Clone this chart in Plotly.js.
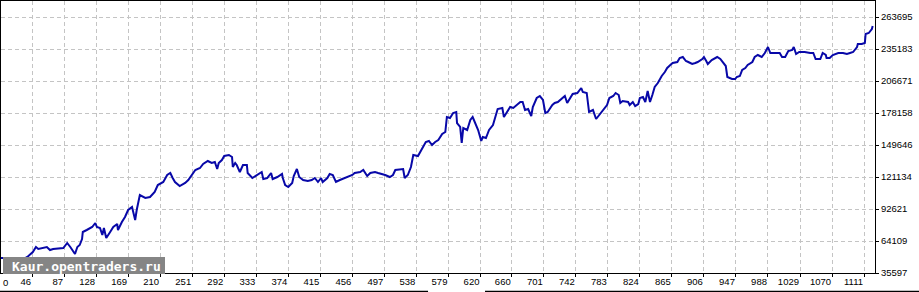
<!DOCTYPE html>
<html>
<head>
<meta charset="utf-8">
<script src="https://cdn.plot.ly/plotly-3.0.1.min.js"></script>
<style>html,body{margin:0;padding:0;background:#fff;}#chart{width:919px;height:292px;}</style>
</head>
<body>
<div id="chart"></div>
<script>
// Bar index of each sampled point of the equity curve
const barIndex = [5,15,23,28,33,40,47,51,54,59,65,69,73,86,91,95,98,101,104,107,110,111,116,123,127,129,133,136,138,141,146,150,155,156,161,165,169,174,178,180,184,191,197,201,203,207,214,219,223,226,229,235,242,246,252,255,261,265,271,276,280,283,285,289,292,298,302,303,306,308,312,316,321,322,328,334,340,342,347,352,354,360,366,367,370,374,379,381,385,388,393,399,404,408,412,416,418,424,427,431,435,440,449,456,459,466,470,475,479,485,489,494,498,504,508,511,517,521,523,527,531,534,540,543,546,550,554,558,562,566,571,575,577,581,585,589,590,594,596,598,603,607,610,613,617,621,623,627,631,636,639,642,648,650,654,658,662,667,671,674,677,681,685,687,692,696,700,703,706,712,715,719,724,728,731,735,738,744,749,751,756,759,764,768,773,777,782,785,790,793,797,799,802,809,811,815,818,822,824,828,831,834,837,840,843,847,852,856,859,863,866,872,875,879,883,886,891,895,898,904,906,909,911,916,920,923,927,930,934,936,942,946,948,952,955,959,962,968,971,975,980,984,988,991,994,1000,1003,1006,1010,1014,1019,1021,1024,1028,1035,1042,1046,1049,1055,1058,1062,1063,1067,1071,1078,1084,1089,1093,1097,1102,1103,1108,1112,1113,1117,1121,1122];
// Equity (balance) value at each sampled point
const equity = [48960,48960,48070,46290,47180,49850,54310,58760,56980,57870,58760,56090,56980,57870,62330,58760,56090,52530,58760,60550,65890,72130,73910,76580,80150,76580,75690,69460,75690,66780,72130,76580,79260,73910,81040,85490,91730,94400,82820,91730,105100,102420,103310,105990,107770,114000,116680,122920,124700,120240,116680,113110,115790,118460,124700,127370,129150,132720,135390,133610,134500,128260,133610,136280,139840,140740,138950,130040,133610,131830,125590,131830,131830,124700,120240,122920,125590,119350,120240,124700,119350,121130,123810,120240,114000,112220,115790,122020,128260,121130,118460,117570,118460,120240,116680,120240,116680,120240,123810,122920,116680,118460,121130,122920,124700,125590,127370,122020,124700,125590,124700,123810,122920,121130,122920,127370,128260,128260,120240,122920,130040,140740,139840,143410,147860,152320,153210,149650,152320,154100,159450,161230,174590,173700,178160,179050,169250,165680,151430,164790,163010,171920,174590,169250,163010,153210,156770,155880,163010,167470,173700,181720,182610,174590,179050,183500,182610,185290,187960,187960,180830,181720,175480,183500,191520,193300,189740,178160,179050,185290,187070,187960,190630,193300,187070,192410,195090,195980,200430,196870,195980,179050,180830,172810,177270,181720,185290,191520,193300,195980,194190,187070,188850,187960,185290,187960,184390,186180,191520,192410,187960,197760,187960,194190,201320,204890,211120,214690,218250,220930,222710,223600,227160,228050,224490,223600,221820,222710,223600,226270,228050,224490,221820,225380,227160,228050,226270,223600,220030,210230,208450,208450,210230,211120,216470,218250,220930,223600,228050,229840,228050,231620,236960,231620,231620,231620,231620,228050,228050,233400,234290,236960,230730,232510,232510,231620,231620,226270,226270,231620,229840,227160,227160,229840,231620,231620,230730,231620,232510,236960,239640,239640,240530,248550,249440,253000,255670];
// Axis tick labels
const xTickLabels = ["46","87","128","169","210","251","292","333","374","415","456","497","538","579","620","660","701","742","783","824","865","906","947","988","1029","1070","1111"];
const yTickLabels = ["35597","64109","92621","121134","149646","178158","206671","235183","263695"];
const watermark = "Kaur.opentraders.ru";

const xTickVals = xTickLabels.map(Number);
const yTickVals = yTickLabels.map(Number);

const tickFont = {family: "Liberation Sans, Arial, sans-serif", size: 9.5, color: "#000000"};

const trace = {
  x: barIndex, y: equity, type: "scatter", mode: "lines",
  line: {color: "#0808A8", width: 2}, hoverinfo: "skip"
};

const layout = {
  width: 919, height: 292,
  margin: {l: 1, r: 44, t: 1, b: 19, pad: 0},
  paper_bgcolor: "#ffffff", plot_bgcolor: "#ffffff",
  showlegend: false,
  xaxis: {
    range: [6.28, 1125], tickmode: "array", tickvals: xTickVals, ticktext: xTickLabels,
    showgrid: true, gridcolor: "#c4c4c4", griddash: "4px,3px", gridwidth: 1,
    showline: true, linecolor: "#000000", linewidth: 1, mirror: true,
    ticks: "outside", ticklen: 3, tickcolor: "#000000",
    ticklabelposition: "outside left", tickfont: tickFont, zeroline: false, fixedrange: true
  },
  yaxis: {
    side: "right", range: [35597, 277951], tickmode: "array", tickvals: yTickVals, ticktext: yTickLabels,
    showgrid: true, gridcolor: "#c4c4c4", griddash: "4px,3px", gridwidth: 1,
    showline: true, linecolor: "#000000", linewidth: 1, mirror: true,
    ticks: "outside", ticklen: 3, tickcolor: "#000000",
    tickfont: tickFont, zeroline: false, fixedrange: true
  },
  shapes: [
    {type: "rect", xref: "paper", yref: "paper", x0: 0.00229, x1: 0.18764, y0: -0.00368, y1: 0.0588,
     fillcolor: "#858585", line: {width: 0}, layer: "above"},
    {type: "line", xref: "paper", yref: "paper", x0: -0.0012, x1: 0.4886, y0: -0.068, y1: -0.068,
     line: {color: "#000000", width: 1.5}},
    {type: "line", xref: "paper", yref: "paper", x0: 0.5538, x1: 1.06, y0: -0.068, y1: -0.068,
     line: {color: "#000000", width: 1.5}}
  ],
  annotations: [
    {text: watermark, xref: "paper", yref: "paper", x: 0.0973, y: 0.0257, xanchor: "center", yanchor: "middle",
     showarrow: false, font: {family: "DejaVu Sans Mono, monospace", size: 13, color: "#ffffff", weight: "bold"}},
    {text: "0", xref: "paper", yref: "paper", x: 0.0, y: -0.035, xanchor: "left", yanchor: "middle",
     showarrow: false, font: tickFont}
  ]
};

Plotly.newPlot("chart", [trace], layout, {staticPlot: true, displayModeBar: false});
</script>
</body>
</html>
